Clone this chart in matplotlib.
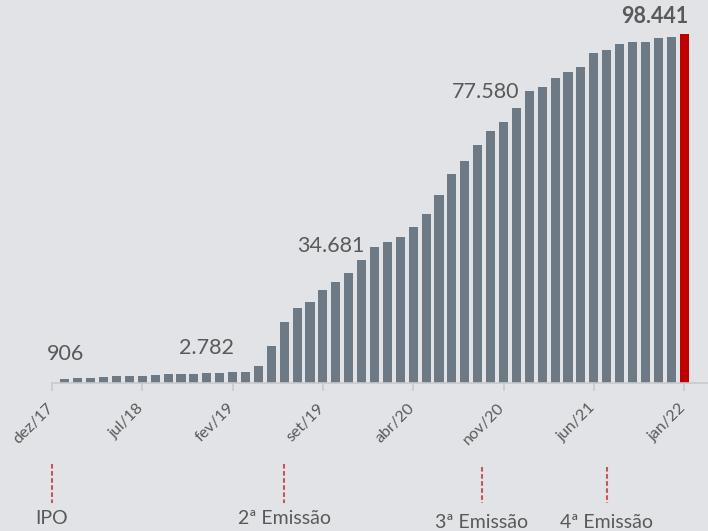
import matplotlib
matplotlib.use("Agg")
import matplotlib.pyplot as plt
import matplotlib.transforms as mtransforms

# Monthly series, dez/17 .. jan/22 (one value per month)
values = [
    0, 906, 1216, 1216, 1612, 1782, 1895, 1895, 2065, 2263,
    2263, 2461, 2546, 2782, 3027, 3027, 4724, 10382, 16974, 20935,
    22632, 26027, 28290, 30836, 34681, 38192, 39606, 41020, 43850, 47527,
    52902, 58843, 62521, 67047, 71008, 73554, 77580, 82240, 83370, 86000,
    87700, 89114, 93074, 93922, 95620, 96186, 96186, 97318, 97600, 98441,
]
tick_idx = [0, 7, 14, 21, 28, 35, 42, 49]
tick_labels = ['dez/17', 'jul/18', 'fev/19', 'set/19', 'abr/20', 'nov/20', 'jun/21', 'jan/22']

# floating value labels: (x index, y value, text)
value_labels = [(1.08, 8050, '906'), (11.97, 9886, '2.782'),
                (21.6, 38416, '34.681'), (33.64, 82057, '77.580')]
# events marked below the axis
event_idx = [0, 18, 33.3, 43]
event_names = ['IPO', '2ª Emissão', '3ª Emissão', '4ª Emissão']

BG = '#E2E3E7'
BAR = '#6D7A85'
RED = '#C00000'
TXT = '#595959'
AXC = '#C8C9CD'

plt.rcParams['font.family'] = ['Lato', 'DejaVu Sans']

fig = plt.figure(figsize=(7.08, 5.31), dpi=100, facecolor=BG)
ax = fig.add_axes([52 / 708, 1 - 382.5 / 531, 1 - 52 / 708, 382.5 / 531])
ax.set_facecolor(BG)

colors = [BAR] * (len(values) - 1) + [RED]
ax.bar(range(len(values)), values, width=0.7, color=colors, zorder=2)

ax.set_xlim(0, (708 - 52) / 12.9)
ax.set_ylim(0, 98441 * 382.5 / 348.5)

for s in ['top', 'right', 'left']:
    ax.spines[s].set_visible(False)
ax.spines['bottom'].set_color(AXC)
ax.spines['bottom'].set_linewidth(1.2)
ax.set_yticks([])
ax.set_xticks(tick_idx)
ax.set_xticklabels(tick_labels, rotation=45, ha='right')
ax.tick_params(axis='x', length=6, width=1.2, color=AXC, pad=8,
               labelsize=11.5, labelcolor=TXT)
shift = mtransforms.ScaledTranslation(4 / 100, 1 / 100, fig.dpi_scale_trans)
for lab in ax.get_xticklabels():
    lab.set_transform(lab.get_transform() + shift)

for x, y, t in value_labels:
    ax.text(x, y, t, ha='center', va='center', fontsize=15.5, color=TXT)
ax.text(49.35, 103244, '98.441', ha='right', va='center', fontsize=15.5,
        color=TXT, fontweight='bold')

# event markers below the axis
trans = mtransforms.blended_transform_factory(ax.transData, fig.transFigure)
text_y = [1 - 519 / 531, 1 - 519 / 531, 1 - 522 / 531, 1 - 522 / 531]
line_top = [1 - 464 / 531, 1 - 464 / 531, 1 - 467 / 531, 1 - 467 / 531]
for x, name, ty, lt in zip(event_idx, event_names, text_y, line_top):
    ax.plot([x, x], [lt, 1 - 503 / 531], transform=trans, clip_on=False,
            color='#C8535A', lw=1.5, dashes=(2.2, 1.2))
    ax.text(x, ty, name, transform=trans, ha='center', va='center',
            fontsize=14, color=TXT, clip_on=False)

fig.savefig('out.png', dpi=100, facecolor=BG)
